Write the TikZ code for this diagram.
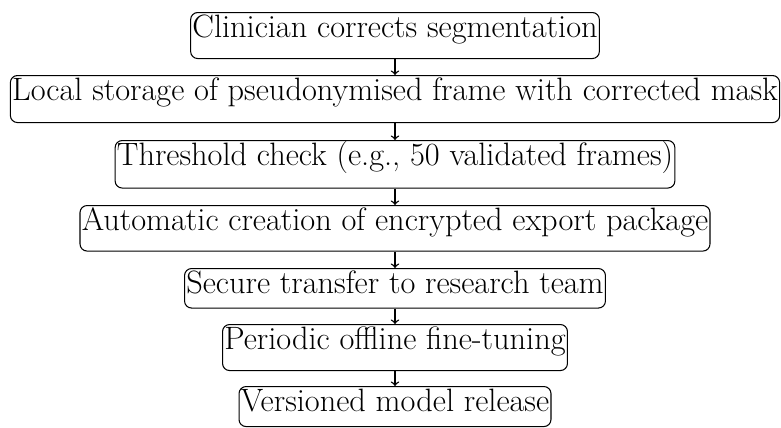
\documentclass[tikz,border=0pt]{standalone}
\usepackage{tikz}

\begin{document}
\begin{tikzpicture}[
		stage/.style={draw, semithick, rounded corners=4pt, inner sep=1pt, anchor=north, font=\fontsize{18.4}{22}\selectfont, text height=0.46cm},
		arrow/.style={->, thick}
		]
		\useasboundingbox (0,0) rectangle (15.62,-8.54);
		
		% Nodes
		\node[stage, text depth=0.39cm] (correct) at (7.9,-0.24) {Clinician corrects segmentation};
		\node[stage, text depth=0.41cm] (storage) at (7.9,-1.50) {Local storage of pseudonymised frame with corrected mask};
		\node[stage, text depth=0.42cm] (threshold) at (7.9,-2.80) {Threshold check (e.g., 50 validated frames)};
		\node[stage, text depth=0.38cm] (export) at (7.9,-4.10) {Automatic creation of encrypted export package};
		\node[stage, text depth=0.26cm] (transfer) at (7.9,-5.36) {Secure transfer to research team};
		\node[stage, text depth=0.39cm] (tuning) at (7.9,-6.48) {Periodic offline fine-tuning};
		\node[stage, text depth=0.27cm] (release) at (7.9,-7.72) {Versioned model release};
		
		% Arrows
		\draw[arrow] (correct) -- (storage);
		\draw[arrow] (storage) -- (threshold);
		\draw[arrow] (threshold) -- (export);
		\draw[arrow] (export) -- (transfer);
		\draw[arrow] (transfer) -- (tuning);
		\draw[arrow] (tuning) -- (release);
		
	\end{tikzpicture}
\end{document}
